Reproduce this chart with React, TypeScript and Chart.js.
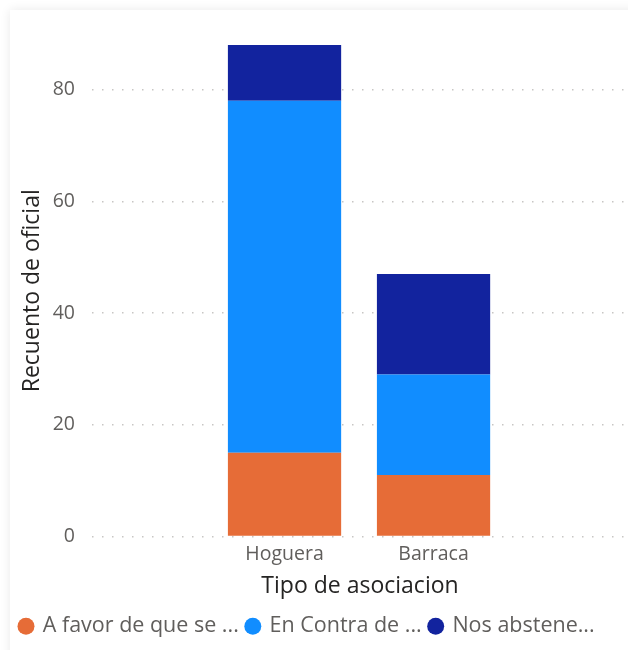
import React, { useEffect, useRef } from "react";
import { Chart, registerables } from "chart.js";

Chart.register(...registerables);

const categories = ["Hoguera", "Barraca"];
const seriesLabels = ["A favor de que se ...", "En Contra de ...", "Nos abstene..."];
const aFavor = [15, 11];
const enContra = [63, 18];
const abstenemos = [10, 18];
const yTicks = [0, 20, 40, 60, 80];
const colors = ["#E66C37", "#118DFF", "#12239E"];

const FONT = "'Open Sans', 'Noto Sans', sans-serif";
const X_MIN = -1.292;
const X_MAX = 2.305;

export default function App() {
  const ref = useRef<HTMLCanvasElement | null>(null);

  useEffect(() => {
    if (!ref.current) return;
    const series = [aFavor, enContra, abstenemos];
    const chart = new Chart(ref.current, {
      type: "bar",
      data: {
        datasets: series.map((vals, si) => ({
          label: seriesLabels[si],
          data: vals.map((v, i) => ({ x: i, y: v })),
          backgroundColor: colors[si],
          borderWidth: 0,
          categoryPercentage: 1,
          barPercentage: 0.76,
        })),
      },
      options: {
        animation: false,
        responsive: false,
        devicePixelRatio: 1,
        layout: { padding: { left: 12, right: 0, top: 45, bottom: 3 } },
        plugins: {
          tooltip: { enabled: false },
          legend: {
            position: "bottom",
            align: "start",
            labels: {
              usePointStyle: true,
              pointStyle: "circle",
              boxWidth: 12,
              boxHeight: 12,
              padding: 8,
              color: "#605E5C",
              font: { family: FONT, size: 21.5 },
            },
          },
        },
        scales: {
          x: {
            type: "linear",
            stacked: true,
            offset: false,
            bounds: "data",
            min: X_MIN,
            max: X_MAX,
            grid: { display: false, offset: false },
            border: { display: false },
            afterDataLimits: (scale: any) => {
              scale.min = X_MIN;
              scale.max = X_MAX;
            },
            afterBuildTicks: (scale: any) => {
              scale.ticks = categories.map((_, i) => ({ value: i }));
            },
            afterFit: (scale: any) => {
              scale.height = 71;
            },
            ticks: {
              padding: -2,
              color: "#605E5C",
              font: { family: FONT, size: 19.5 },
              callback: (v: any) => categories[v as number] ?? "",
            },
            title: {
              display: true,
              text: "Tipo de asociacion",
              color: "#252423",
              font: { family: FONT, size: 23 },
              padding: { top: 0, bottom: 7 },
            },
          },
          y: {
            stacked: true,
            min: 0,
            max: 88,
            afterBuildTicks: (scale: any) => {
              scale.ticks = yTicks.map((v) => ({ value: v }));
            },
            afterFit: (scale: any) => {
              scale.width = 80;
            },
            grid: {
              color: "#C8C6C4",
              lineWidth: 1.5,
              drawTicks: false,
            },
            border: { display: false, dash: [1.5, 8.5] },
            ticks: {
              padding: 17,
              color: "#605E5C",
              font: { family: FONT, size: 19.5 },
            },
            title: {
              display: true,
              text: "Recuento de oficial",
              color: "#252423",
              font: { family: FONT, size: 23 },
              padding: { top: 7, bottom: 0 },
            },
          },
        },
      },
    });
    return () => chart.destroy();
  }, []);

  return (
    <div
      style={{
        position: "fixed",
        left: 0,
        top: 0,
        width: 628,
        height: 650,
        overflow: "hidden",
        background: "#ffffff",
      }}
    >
      <div
        style={{
          position: "absolute",
          left: 10,
          top: 10,
          width: 660,
          height: 680,
          background: "#ffffff",
          boxShadow: "0 0 10px rgba(0,0,0,0.09)",
        }}
      />
      <canvas
        ref={ref}
        width={628}
        height={650}
        style={{ position: "absolute", left: 0, top: 0, width: 628, height: 650 }}
      />
    </div>
  );
}
